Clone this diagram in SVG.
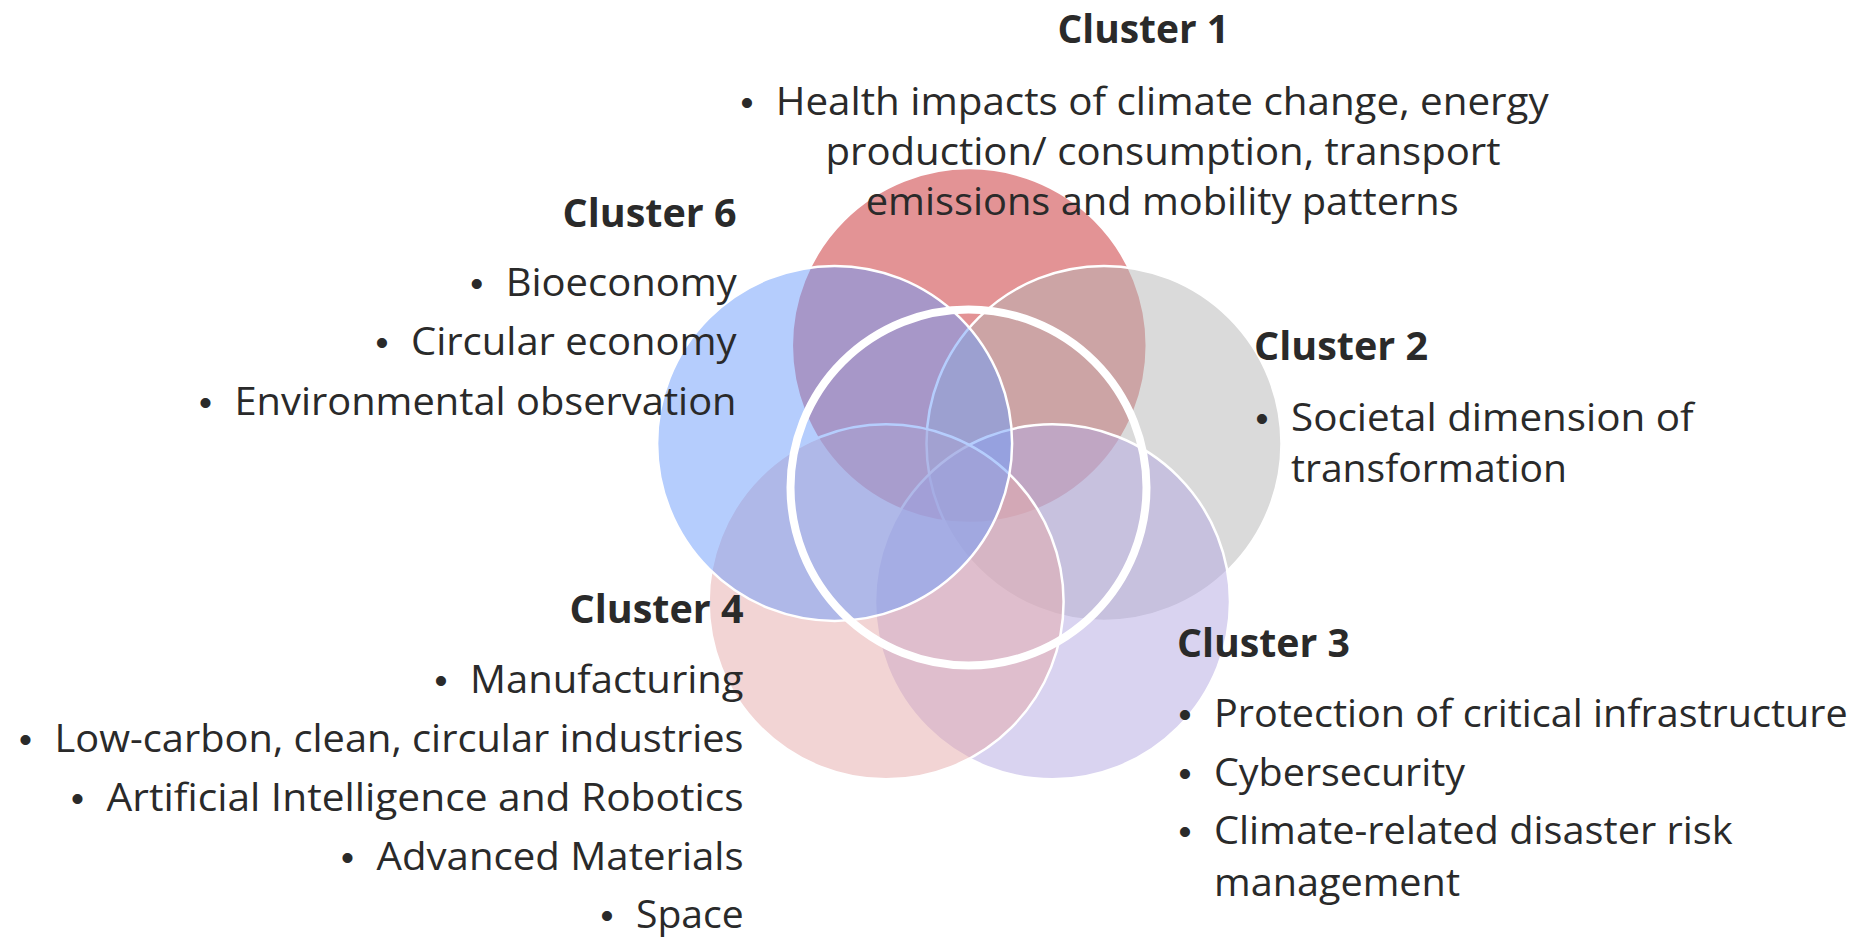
<svg xmlns="http://www.w3.org/2000/svg" width="1857" height="939" viewBox="0 0 1857 939">
<style>
.c{stroke:#ffffff;stroke-width:2.5;fill-opacity:0.5}
.t{font-family:"Open Sans","Noto Sans","Liberation Sans",sans-serif;font-size:39px;fill:#2a2a2a}
.h{font-family:"Open Sans","Noto Sans","Liberation Sans",sans-serif;font-size:40px;font-weight:700;fill:#2a2a2a}
.b{font-family:"Liberation Sans","Arial",sans-serif;font-size:37px;fill:#2a2a2a;text-anchor:middle}
</style>
<rect width="1857" height="939" fill="#ffffff"/>
<g id="cluster1">
<circle class="c" cx="969.3" cy="345.6" r="177.5" fill="#C7272B"/>
<text class="h" x="1057.5" y="43" textLength="171.5" lengthAdjust="spacingAndGlyphs">Cluster 1</text>
<text class="b" x="747" y="115">•</text>
<text class="t" x="775.7" y="115" textLength="773" lengthAdjust="spacingAndGlyphs">Health impacts of climate change, energy</text>
<text class="t" x="825.5" y="165" textLength="675" lengthAdjust="spacingAndGlyphs">production/ consumption, transport</text>
<text class="t" x="865.7" y="215" textLength="593" lengthAdjust="spacingAndGlyphs">emissions and mobility patterns</text>
</g>
<g id="cluster2">
<circle class="c" cx="1104" cy="443.4" r="177.5" fill="#B5B5B5"/>
<text class="h" x="1254" y="360" textLength="174" lengthAdjust="spacingAndGlyphs">Cluster 2</text>
<text class="b" x="1262" y="431">•</text>
<text class="t" x="1291" y="431" textLength="402.7" lengthAdjust="spacingAndGlyphs">Societal dimension of</text>
<text class="t" x="1291" y="482" textLength="276" lengthAdjust="spacingAndGlyphs">transformation</text>
</g>
<g id="cluster3">
<circle class="c" cx="1052.5" cy="601.8" r="177.5" fill="#B3A7E1"/>
<text class="h" x="1177" y="657" textLength="173" lengthAdjust="spacingAndGlyphs">Cluster 3</text>
<text class="b" x="1185" y="727">•</text>
<text class="t" x="1214" y="727" textLength="633.6" lengthAdjust="spacingAndGlyphs">Protection of critical infrastructure</text>
<text class="b" x="1185" y="786">•</text>
<text class="t" x="1214" y="786" textLength="251" lengthAdjust="spacingAndGlyphs">Cybersecurity</text>
<text class="b" x="1185" y="844">•</text>
<text class="t" x="1214" y="844" textLength="518.7" lengthAdjust="spacingAndGlyphs">Climate-related disaster risk</text>
<text class="t" x="1214" y="896" textLength="246" lengthAdjust="spacingAndGlyphs">management</text>
</g>
<g id="cluster4">
<circle class="c" cx="886.1" cy="601.8" r="177.5" fill="#E5A9A9"/>
<text class="h" x="569.6" y="623" textLength="174" lengthAdjust="spacingAndGlyphs">Cluster 4</text>
<text class="b" x="441" y="693">•</text>
<text class="t" x="470" y="693" textLength="273.6" lengthAdjust="spacingAndGlyphs">Manufacturing</text>
<text class="b" x="25.5" y="752">•</text>
<text class="t" x="54.5" y="752" textLength="689" lengthAdjust="spacingAndGlyphs">Low-carbon, clean, circular industries</text>
<text class="b" x="77.6" y="811">•</text>
<text class="t" x="106.6" y="811" textLength="637" lengthAdjust="spacingAndGlyphs">Artificial Intelligence and Robotics</text>
<text class="b" x="347.6" y="870">•</text>
<text class="t" x="376.6" y="870" textLength="367" lengthAdjust="spacingAndGlyphs">Advanced Materials</text>
<text class="b" x="607" y="928">•</text>
<text class="t" x="636" y="928" textLength="107.7" lengthAdjust="spacingAndGlyphs">Space</text>
</g>
<g id="cluster6">
<circle class="c" cx="834.6" cy="443.4" r="177.5" fill="#6B9BFB"/>
<text class="h" x="562.5" y="227" textLength="174" lengthAdjust="spacingAndGlyphs">Cluster 6</text>
<text class="b" x="476.7" y="296">•</text>
<text class="t" x="505.7" y="296" textLength="231" lengthAdjust="spacingAndGlyphs">Bioeconomy</text>
<text class="b" x="382" y="355">•</text>
<text class="t" x="411" y="355" textLength="325.6" lengthAdjust="spacingAndGlyphs">Circular economy</text>
<text class="b" x="205.5" y="414.5">•</text>
<text class="t" x="234.5" y="414.5" textLength="502" lengthAdjust="spacingAndGlyphs">Environmental observation</text>
</g>
<g id="center">
<circle cx="968.5" cy="487.5" r="178" fill="none" stroke="#ffffff" stroke-width="8"/>
</g>
<g id="connectors"/>
</svg>
